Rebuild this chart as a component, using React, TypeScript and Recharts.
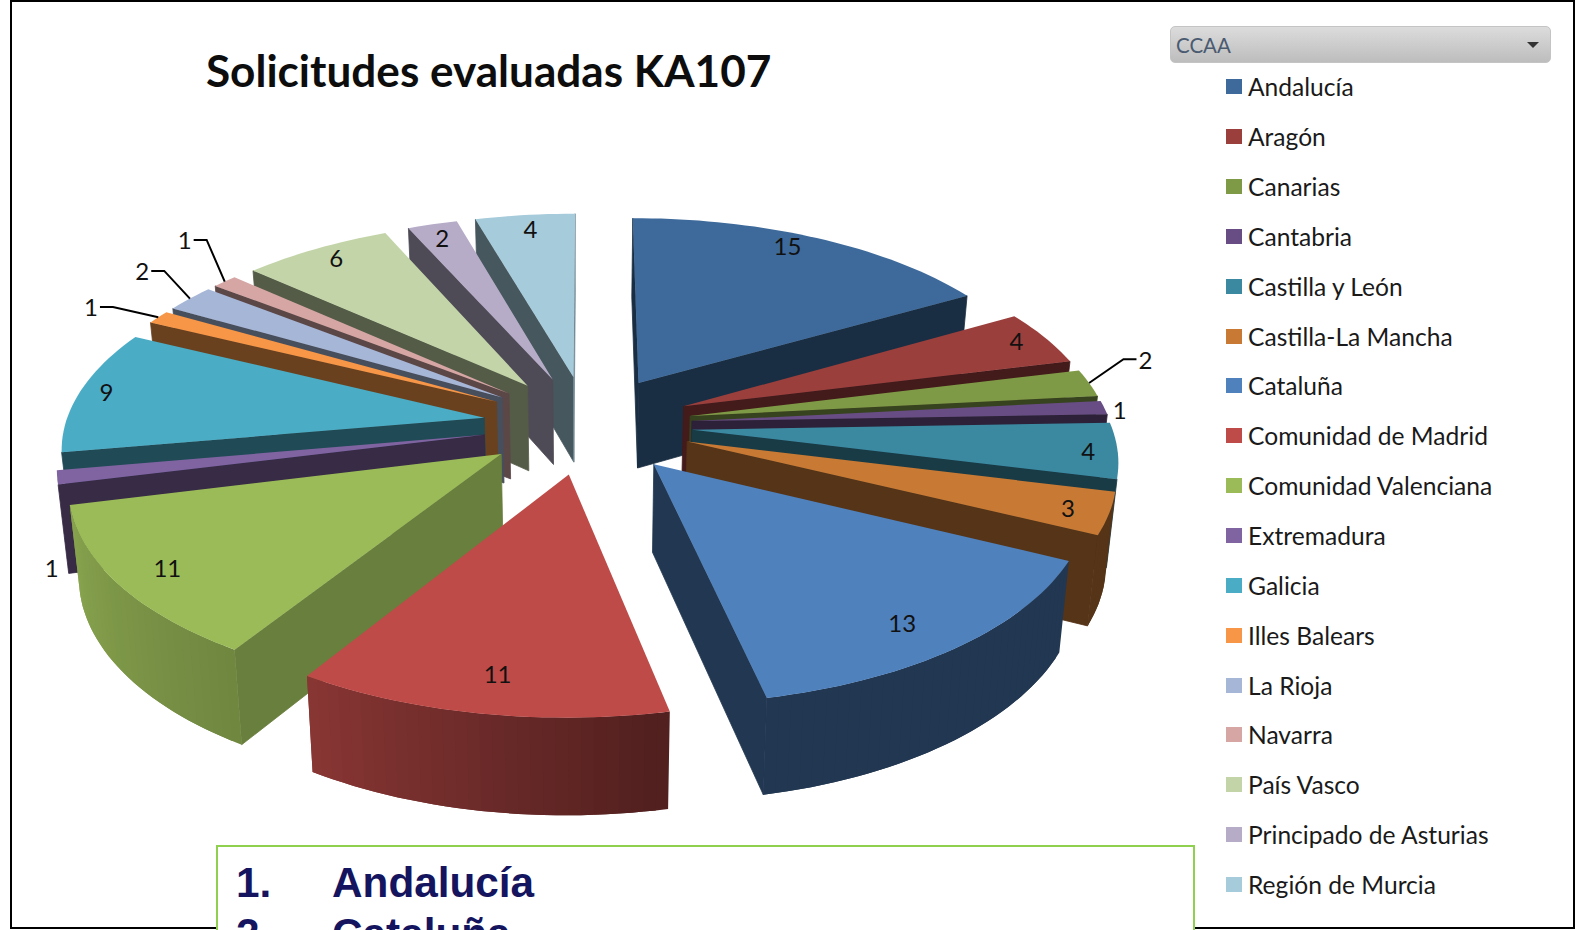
import { PieChart, Pie, Legend } from 'recharts';

const regions = [
  'Andalucía', 'Aragón', 'Canarias', 'Cantabria', 'Castilla y León', 'Castilla-La Mancha', 'Cataluña',
  'Comunidad de Madrid', 'Comunidad Valenciana', 'Extremadura', 'Galicia', 'Illes Balears', 'La Rioja',
  'Navarra', 'País Vasco', 'Principado de Asturias', 'Región de Murcia',
];
const applications = [15, 4, 2, 1, 4, 3, 13, 11, 11, 1, 9, 1, 2, 1, 6, 2, 4];
const sliceColors = [
  '#3d6a9b', '#9b3f3c', '#7f9a47', '#674d84', '#3a89a1', '#c87a35', '#4f81bd', '#be4b48', '#9bbb59',
  '#8064a2', '#4bacc6', '#f79646', '#a6b6d6', '#d6a6a5', '#c3d5a8', '#b6acc8', '#a6cbdb',
];

// where Excel left each data label: radius and angle in pie units, leader side if it has a line
const labelSpots: Record<string, { r: number; a: number; leader: number }> = {
  'Andalucía': { r: 0.89, a: 27.8, leader: 0 },
  'Aragón': { r: 0.912, a: 68.6, leader: 0 },
  Canarias: { r: 1.175, a: 76.3, leader: 1 },
  Cantabria: { r: 1.03, a: 88, leader: 0 },
  'Castilla y León': { r: 0.931, a: 97.7, leader: 0 },
  'Castilla-La Mancha': { r: 0.912, a: 111.6, leader: 0 },
  'Cataluña': { r: 0.872, a: 144.4, leader: 0 },
  'Comunidad de Madrid': { r: 0.868, a: 189.3, leader: 0 },
  'Comunidad Valenciana': { r: 0.89, a: 233, leader: 0 },
  Extremadura: { r: 1.115, a: 235.6, leader: 0 },
  Galicia: { r: 0.93, a: 277, leader: 0 },
  'Illes Balears': { r: 1.175, a: 295.4, leader: -1 },
  'La Rioja': { r: 1.2, a: 305.8, leader: -1 },
  Navarra: { r: 1.26, a: 314.3, leader: -1 },
  'País Vasco': { r: 0.895, a: 324, leader: 0 },
  'Principado de Asturias': { r: 0.875, a: 339.3, leader: 0 },
  'Región de Murcia': { r: 0.875, a: 352, leader: 0 },
};

const slices = regions.map((name, i) => ({ name, value: applications[i], fill: sliceColors[i] }));
const reversedSlices = [...slices].reverse();

const CX = 587.6;
const CY = 424.5;
const RADIUS = 419;
const TILT = 0.4695;
const PERSPECTIVE = 0.1315;
const EXPLODE = 0.25;
const DEPTH = 86.5;
const rad = (deg: number) => (deg * Math.PI) / 180;

// deg is clockwise from 12 o'clock, z is 0 on the top face and 1 on the bottom
function project(cx: number, cy: number, R: number, r: number, deg: number, mid: number, z = 0) {
  const X = r * Math.sin(rad(deg)) + EXPLODE * Math.sin(rad(mid));
  const Y = -(r * Math.cos(rad(deg)) + EXPLODE * Math.cos(rad(mid)));
  const s = 1 / (1 - PERSPECTIVE * Y);
  const k = 1 - 0.02 * z;
  return { x: cx + R * X * s * k, y: cy + R * TILT * Y * s * k + z * DEPTH * s };
}

function shade(hex: string, m: number) {
  const n = parseInt(hex.slice(1), 16);
  const c = [n >> 16, (n >> 8) & 255, n & 255].map((v) => Math.round(v * m));
  return `rgb(${c[0]},${c[1]},${c[2]})`;
}

// the outer wall lightens as it turns to the left of the picture
function rimShade(deg: number) {
  const d = ((deg % 360) + 360) % 360;
  if (d <= 170) return 0.43;
  if (d <= 212) return 0.43 + ((d - 170) / 42) * 0.29;
  if (d <= 256) return 0.72 + ((d - 212) / 44) * 0.16;
  return 0.45;
}

type P = { x: number; y: number };
const toPath = (pts: P[]) => 'M' + pts.map((p) => `${p.x.toFixed(1)},${p.y.toFixed(1)}`).join('L') + 'Z';
const area = (pts: P[]) =>
  pts.reduce((sum, p, i) => {
    const q = pts[(i + 1) % pts.length];
    return sum + p.x * q.y - q.x * p.y;
  }, 0);

function Slice3D(props: any, side: 'right' | 'left') {
  const { cx, cy, outerRadius: R, startAngle, endAngle, fill } = props;
  const a1 = Math.min(90 - startAngle, 90 - endAngle);
  const a2 = Math.max(90 - startAngle, 90 - endAngle);
  const mid = (a1 + a2) / 2;
  const normMid = ((mid % 360) + 360) % 360;
  if ((side === 'right') !== normMid < 180) return <g />;

  const steps = Math.max(2, Math.ceil((a2 - a1) / 1.5));
  const angles = Array.from({ length: steps + 1 }, (_, i) => a1 + ((a2 - a1) * i) / steps);
  const top = (deg: number) => project(cx, cy, R, 1, deg, mid, 0);
  const bottom = (deg: number) => project(cx, cy, R, 1, deg, mid, 1);
  const apexTop = project(cx, cy, R, 0, 0, mid, 0);
  const apexBottom = project(cx, cy, R, 0, 0, mid, 1);

  const walls: { d: string; color: string; line: boolean }[] = [];
  const addRadial = (p: P, q: P, p2: P, q2: P, normal: number) => {
    const quad = [p, q, q2, p2];
    if (area(quad) >= 0) return;
    const n = ((normal % 360) + 360) % 360;
    walls.push({ d: toPath(quad), color: shade(fill, n <= 130 ? 0.68 : 0.43), line: true });
  };
  addRadial(apexTop, top(a1), apexBottom, bottom(a1), a1 - 90);
  addRadial(top(a2), apexTop, bottom(a2), apexBottom, a2 + 90);
  for (let i = 0; i < steps; i++) {
    const quad = [top(angles[i]), top(angles[i + 1]), bottom(angles[i + 1]), bottom(angles[i])];
    if (area(quad) >= 0) continue;
    // each strip runs under the next one so no seams show between them
    const end = angles[Math.min(i + 2, steps)];
    const strip = [top(angles[i]), top(angles[i + 1]), top(end), bottom(end), bottom(angles[i + 1]), bottom(angles[i])];
    walls.push({ d: toPath(strip), color: shade(fill, rimShade((angles[i] + angles[i + 1]) / 2)), line: false });
  }

  return (
    <g>
      {walls.map((w, i) => (
        <path key={i} d={w.d} fill={w.color} stroke={w.line ? w.color : 'none'} strokeWidth={0.8} />
      ))}
      <path d={toPath([apexTop, ...angles.map(top)])} fill={fill} />
    </g>
  );
}

function SliceLabel(props: any) {
  const { cx, cy, outerRadius: R, midAngle, value, name } = props;
  const mid = 90 - midAngle;
  const spot = labelSpots[name];
  const pos = project(cx, cy, R, spot.r, spot.a, mid);
  pos.y -= 4.5;
  let leader = null;
  if (spot.leader !== 0) {
    const rim = project(cx, cy, R, 1, mid, mid);
    leader = (
      <polyline
        points={`${pos.x - spot.leader * 9},${pos.y} ${pos.x - spot.leader * 22},${pos.y} ${rim.x},${rim.y}`}
        fill="none"
        stroke="#000"
        strokeWidth={2}
      />
    );
  }
  return (
    <g>
      {leader}
      <text x={pos.x} y={pos.y} textAnchor="middle" dominantBaseline="central" fontFamily="Lato" fontSize={24} fill="#111">
        {value}
      </text>
    </g>
  );
}

function RegionLegend(props: any) {
  return (
    <div>
      {regions.map((name) => {
        // the three pies all report their slices, one entry per region is enough
        const entry = props.payload.find((e: any) => e.value === name);
        return (
          <div key={name} style={{ height: 49.85, display: 'flex', alignItems: 'center' }}>
            <span style={{ width: 16, height: 15, background: entry?.color, marginRight: 6 }} />
            <span style={{ fontFamily: 'Lato', fontSize: 24.6, color: '#1a1a1a', whiteSpace: 'nowrap' }}>{name}</span>
          </div>
        );
      })}
    </div>
  );
}

export default function App() {
  return (
    <div style={{ position: 'absolute', left: 0, top: 0, width: 1575, height: 930, overflow: 'hidden', background: '#fff' }}>
      <PieChart width={1575} height={930} margin={{ top: 0, right: 0, bottom: 0, left: 0 }}>
        <Pie
          data={slices}
          dataKey="value"
          nameKey="name"
          cx={CX}
          cy={CY}
          outerRadius={RADIUS}
          startAngle={90}
          endAngle={-270}
          legendType="none"
          label={false}
          isAnimationActive={false}
          shape={(p: any) => Slice3D(p, 'right')}
        />
        <Pie
          data={reversedSlices}
          dataKey="value"
          nameKey="name"
          cx={CX}
          cy={CY}
          outerRadius={RADIUS}
          startAngle={90}
          endAngle={450}
          legendType="none"
          label={false}
          isAnimationActive={false}
          shape={(p: any) => Slice3D(p, 'left')}
        />
        <Pie
          data={slices}
          dataKey="value"
          nameKey="name"
          cx={CX}
          cy={CY}
          outerRadius={RADIUS}
          startAngle={90}
          endAngle={-270}
          label={SliceLabel}
          labelLine={false}
          isAnimationActive={false}
          shape={() => <g />}
        />
        <Legend
          layout="vertical"
          content={RegionLegend}
          wrapperStyle={{ position: 'absolute', left: 1226, top: 62, width: 340, height: 850 }}
        />
      </PieChart>

      {/* marco y cabecera */}
      <div style={{ position: 'absolute', left: 10, top: 0, width: 1561, height: 925, border: '2px solid #000', pointerEvents: 'none' }} />
      <div style={{ position: 'absolute', left: 206, top: 43, fontFamily: 'Lato', fontWeight: 700, fontSize: 44.1, color: '#0d0d0d', whiteSpace: 'nowrap' }}>
        Solicitudes evaluadas KA107
      </div>
      <div
        style={{
          position: 'absolute', left: 1170, top: 26, width: 381, height: 37, borderRadius: 5, boxSizing: 'border-box',
          border: '1px solid #c4c4c4', background: 'linear-gradient(#dcdcdc, #bdbdbd)', display: 'flex', alignItems: 'center',
          justifyContent: 'space-between', padding: '0 11px 0 5px', fontFamily: 'Lato', fontSize: 20.5, color: '#4a5a70',
        }}
      >
        <span>CCAA</span>
        <span style={{ width: 0, height: 0, borderLeft: '6px solid transparent', borderRight: '6px solid transparent', borderTop: '6px solid #333' }} />
      </div>

      {/* recuadro inferior, cortado por el borde de la imagen */}
      <div style={{ position: 'absolute', left: 216, top: 845, width: 975, height: 120, border: '2px solid #8fd14f', background: '#fff', fontFamily: 'Liberation Sans', fontWeight: 700, fontSize: 42.3, color: '#14145f', lineHeight: '51px' }}>
        <div style={{ position: 'absolute', left: 18, top: 10 }}>1.</div>
        <div style={{ position: 'absolute', left: 114, top: 10 }}>Andalucía</div>
        <div style={{ position: 'absolute', left: 18, top: 61 }}>2.</div>
        <div style={{ position: 'absolute', left: 114, top: 61 }}>Cataluña</div>
      </div>
    </div>
  );
}
